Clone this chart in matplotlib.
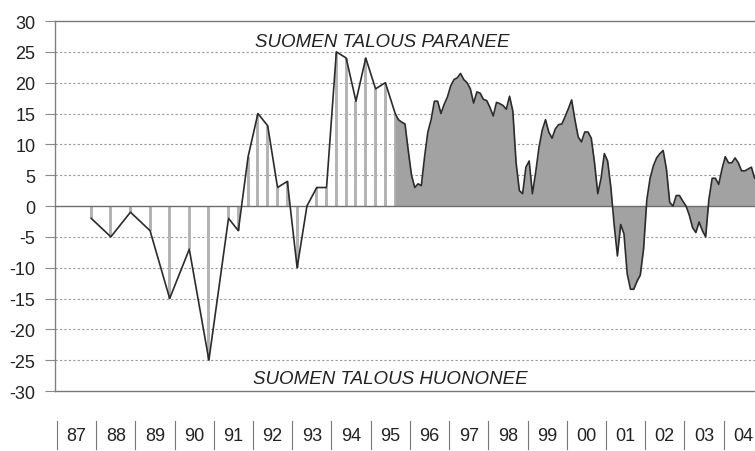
import numpy as np
import matplotlib
matplotlib.use('Agg')
import matplotlib.pyplot as plt
import matplotlib.transforms as mtransforms

plt.rcParams['font.family'] = ['Liberation Sans Narrow', 'Liberation Sans', 'DejaVu Sans']

# survey rounds 1987-1995 (year, month) and balance figures
early_years = [1987, 1988, 1988, 1989, 1989, 1990, 1990, 1991, 1991, 1991,
               1992, 1992, 1992, 1992, 1993, 1993, 1993, 1993,
               1994, 1994, 1994, 1994, 1995, 1995, 1995]
early_months = [11, 5, 11, 5, 11, 5, 11, 5, 8, 11,
                2, 5, 8, 11, 2, 5, 8, 11,
                2, 5, 8, 11, 2, 5, 8]
early_vals = [-2, -5, -1, -4, -15, -7, -25, -2, -4, 8,
              15, 13, 3, 4, -10, 0, 3, 3,
              25, 24, 17, 24, 19, 20, 15]

# monthly series from Sep 1995 to Oct 2004
monthly_start = (1995, 9)
monthly_vals = [14, 13.6, 13.3, 9,
                5, 3, 3.6, 3.3, 8, 12, 14, 17, 17, 15, 16.5, 17.7,
                19.5, 20.5, 20.8, 21.5, 20.5, 20, 19, 16.7, 18.5, 18.3, 17.3, 17.1,
                16, 14.6, 16.8, 16.6, 16.3, 15.7, 17.8, 15.4, 7, 2.5, 2, 6.3,
                7.3, 2, 5.5, 9.5, 12.3, 14, 12, 11, 12.5, 13.2, 13.3, 14.5,
                15.8, 17.2, 14, 11.2, 10.4, 12, 12, 11, 7, 2, 4.5, 8.5,
                7.3, 3, -3, -8.1, -3, -4.5, -11, -13.5, -13.5, -12.2, -11.2, -7,
                1, 4.5, 6.5, 7.8, 8.5, 9, 6, 0.6, 0, 1.7, 1.7, 0.8,
                0, -1.5, -3.5, -4.3, -2.6, -4, -5, 1.1, 4.5, 4.5, 3.5, 6,
                8, 7, 7, 7.8, 7, 5.7, 5.7, 6, 6.3, 4.5]

year_labels = ['87', '88', '89', '90', '91', '92', '93', '94', '95',
               '96', '97', '98', '99', '00', '01', '02', '03', '04']

t_early = np.array(early_years) + (np.array(early_months) - 0.5) / 12
n = len(monthly_vals)
t_month = monthly_start[0] + (monthly_start[1] - 0.5 + np.arange(n)) / 12
v_early = np.array(early_vals, dtype=float)
v_month = np.array(monthly_vals, dtype=float)

fig = plt.figure(figsize=(7.55, 4.52), dpi=100)
ax = fig.add_axes([0.0728, 0.1327, 0.9272, 0.8186])

ax.set_xlim(1986.95, 2004.80)
ax.set_ylim(-30, 30)

# grid
for yv in range(-25, 30, 5):
    if yv == 0:
        continue
    ax.axhline(yv, color='#9a9a9a', lw=0.8, ls=(0, (2, 2)), zorder=0)
ax.axhline(30, color='#777777', lw=1.0, zorder=1, clip_on=False)
ax.axhline(-30, color='#777777', lw=1.0, zorder=1, clip_on=False)

# early period: thin stippled bars
ax.bar(t_early, v_early, width=0.075, color='#b4b4b4', edgecolor='none', zorder=2)
# monthly period: filled area
ax.fill_between(np.r_[t_early[-1], t_month], np.r_[v_early[-1], v_month], 0,
                color='#a2a2a2', lw=0, zorder=2)

ax.axhline(0, color='#6e6e6e', lw=1.0, zorder=3)

ax.plot(np.r_[t_early, t_month], np.r_[v_early, v_month],
        color='#2b2b2b', lw=1.2, zorder=4)

for s in ['top', 'right', 'bottom']:
    ax.spines[s].set_visible(False)
ax.spines['left'].set_color('#808080')
ax.spines['left'].set_linewidth(1.0)

ax.set_yticks(range(-30, 31, 5))
ax.set_yticklabels([str(v) for v in range(-30, 31, 5)], fontsize=13, color='#222222')
ax.tick_params(axis='y', length=7, width=0.8, color='#8a8a8a', pad=7)
ax.set_xticks([])

ax.text(1992.05, 26.7, 'SUOMEN TALOUS PARANEE', fontsize=13.5, style='italic',
        ha='left', va='center', color='#222222')
ax.text(1992.0, -28.0, 'SUOMEN TALOUS HUONONEE', fontsize=13.5, style='italic',
        ha='left', va='center', color='#222222')

# year axis below the chart
trans = mtransforms.blended_transform_factory(ax.transData, fig.transFigure)
for i, lab in enumerate(year_labels):
    yr = 1987 + i
    ax.plot([yr, yr], [0.0044, 0.0664], transform=trans, color='#777777',
            lw=0.8, clip_on=False)
    ax.text(yr + 0.5, 0.035, lab, transform=trans, ha='center', va='center',
            fontsize=13, color='#222222', clip_on=False)

fig.savefig('out.png', dpi=100)
